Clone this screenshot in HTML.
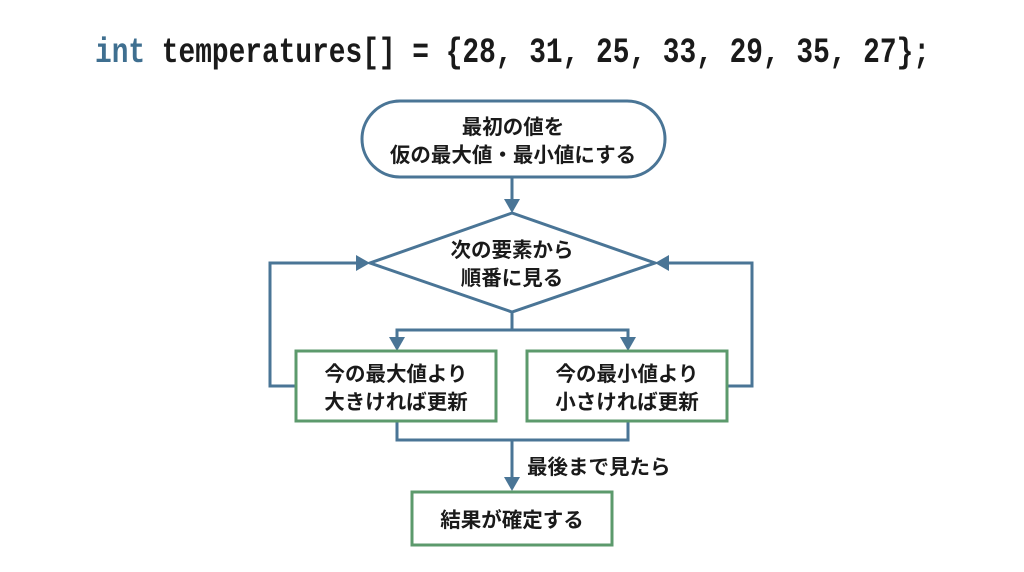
<!DOCTYPE html>
<html><head><meta charset="utf-8"><style>
html,body{margin:0;padding:0;background:#fff;}
svg{display:block}
.j{font-family:"Liberation Sans","Noto Sans CJK JP",sans-serif;font-weight:bold;font-size:20.5px;fill:#1a1a1a;text-anchor:middle}
</style></head><body>
<svg width="1024" height="572" viewBox="0 0 1024 572" xmlns="http://www.w3.org/2000/svg">
<text x="95" y="62" textLength="835" lengthAdjust="spacingAndGlyphs" font-family="'Liberation Mono',monospace" font-weight="bold" font-size="35" fill="#1a1a1a"><tspan fill="#3f6f90">int</tspan> temperatures[] = {28, 31, 25, 33, 29, 35, 27};</text>

<g fill="none" stroke="#4a7596" stroke-width="3">
<rect x="362" y="101" width="303" height="76" rx="38" fill="#fff"/>
<polygon points="512,213 370,263 512,312 655,263" fill="#fff"/>
<line x1="512" y1="177" x2="512" y2="202"/>
<line x1="512" y1="312" x2="512" y2="330"/>
<polyline points="397,340 397,330 628,330 628,340"/>
<polyline points="296,386 270,386 270,263 358,263"/>
<polyline points="727,386 752,386 752,263 667,263"/>
<polyline points="397,421 397,440 628,440 628,421"/>
<line x1="512" y1="440" x2="512" y2="480"/>
</g>
<g fill="#4a7596">
<polygon points="504,199 520,199 512,213"/>
<polygon points="389,337 405,337 397,351"/>
<polygon points="620,337 636,337 628,351"/>
<polygon points="356,255 356,271 370,263"/>
<polygon points="669,255 669,271 655,263"/>
<polygon points="504,477 520,477 512,491"/>
</g>
<g fill="#fff" stroke="#5c9a6c" stroke-width="3">
<rect x="296" y="351" width="200" height="70"/>
<rect x="527" y="351" width="200" height="70"/>
<rect x="412" y="492" width="200" height="53"/>
</g>
<text class="j" x="513" y="134">最初の値を</text>
<text class="j" x="513" y="162">仮の最大値・最小値にする</text>
<text class="j" x="512" y="257">次の要素から</text>
<text class="j" x="512" y="285">順番に見る</text>
<text class="j" x="396" y="381">今の最大値より</text>
<text class="j" x="396" y="409">大きければ更新</text>
<text class="j" x="627" y="381">今の最小値より</text>
<text class="j" x="627" y="409">小さければ更新</text>
<text class="j" x="512" y="527">結果が確定する</text>
<text class="j" x="527" y="474" style="text-anchor:start">最後まで見たら</text>
</svg>
</body></html>
